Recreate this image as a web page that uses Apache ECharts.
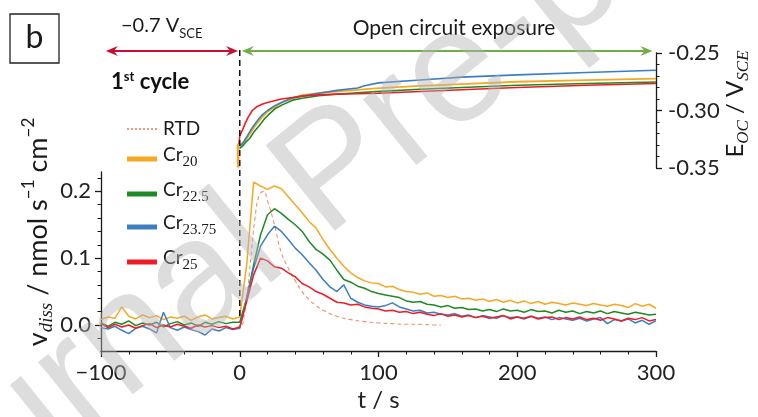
<!DOCTYPE html>
<html>
<head>
<meta charset="utf-8">
<script src="https://cdn.jsdelivr.net/npm/echarts@6/dist/echarts.min.js"></script>
<style>
  html, body { margin: 0; padding: 0; background: #fff; }
  #chart { width: 758px; height: 417px; }
</style>
</head>
<body>
<div id="chart"></div>
<script>
// ---- time base for dissolution rates (s) ----
const timeSec = [
  -100, -95, -90, -85, -80, -75, -70, -65, -60, -55,
  -50, -45, -40, -35, -30, -25, -20, -15, -10, -5,
  0, 5, 10, 15, 20, 25, 30, 35, 40, 45,
  50, 55, 60, 65, 70, 75, 80, 85, 90, 95,
  100, 105, 110, 115, 120, 125, 130, 135, 140, 145,
  150, 155, 160, 165, 170, 175, 180, 185, 190, 195,
  200, 205, 210, 215, 220, 225, 230, 235, 240, 245,
  250, 255, 260, 265, 270, 275, 280, 285, 290, 295,
  300
];

// ---- dissolution rate v_diss (nmol s^-1 cm^-2) ----
const cr20Rate = [
  0.008, 0.012, 0.010, 0.027, 0.013, 0.009, 0.015, 0.011, 0.014, 0.008,
  0.012, 0.010, 0.013, 0.007, 0.012, 0.015, 0.009, 0.011, 0.013, 0.009,
  0.012, 0.090, 0.214, 0.208, 0.203, 0.208, 0.204, 0.192, 0.180, 0.168,
  0.155, 0.145, 0.128, 0.113, 0.100, 0.088, 0.078, 0.071, 0.066, 0.063,
  0.062, 0.057, 0.058, 0.053, 0.050, 0.049, 0.046, 0.048, 0.043, 0.044,
  0.041, 0.043, 0.039, 0.040, 0.037, 0.039, 0.035, 0.038, 0.034, 0.037,
  0.033, 0.036, 0.032, 0.035, 0.031, 0.034, 0.032, 0.030, 0.033, 0.031,
  0.029, 0.032, 0.030, 0.028, 0.031, 0.029, 0.026, 0.032, 0.028, 0.031,
  0.025
];
const cr225Rate = [
  0.003, -0.002, 0.004, 0.001, 0.006, -0.001, 0.003, 0.000, 0.004, -0.003,
  0.002, 0.005, 0.000, 0.003, -0.002, 0.004, 0.001, 0.005, 0.002, 0.004,
  0.004, 0.040, 0.090, 0.135, 0.165, 0.174, 0.167, 0.158, 0.150, 0.140,
  0.125, 0.113, 0.106, 0.097, 0.082, 0.068, 0.064, 0.058, 0.055, 0.050,
  0.047, 0.045, 0.043, 0.041, 0.036, 0.034, 0.035, 0.031, 0.030, 0.027,
  0.029, 0.025, 0.026, 0.023, 0.024, 0.021, 0.023, 0.020, 0.024, 0.021,
  0.022, 0.019, 0.023, 0.020, 0.021, 0.018, 0.022, 0.019, 0.021, 0.017,
  0.020, 0.018, 0.021, 0.017, 0.020, 0.018, 0.016, 0.019, 0.017, 0.015,
  0.016
];
const cr2375Rate = [
  -0.004, -0.006, -0.002, -0.008, -0.013, -0.005, -0.002, -0.006, -0.012, 0.019,
  -0.004, -0.008, -0.003, -0.007, -0.010, -0.015, -0.006, -0.009, -0.004, -0.007,
  -0.005, 0.040, 0.085, 0.118, 0.135, 0.148, 0.140, 0.128, 0.115, 0.105,
  0.093, 0.082, 0.068, 0.057, 0.050, 0.060, 0.040, 0.034, 0.030, 0.028,
  0.027, 0.029, 0.033, 0.027, 0.024, 0.021, 0.022, 0.018, 0.019, 0.016,
  0.015, 0.017, 0.013, 0.015, 0.011, 0.014, 0.012, 0.010, 0.014, 0.011,
  0.012, 0.009, 0.013, 0.010, 0.012, 0.008, 0.011, 0.009, 0.007, 0.010,
  0.006, 0.009, 0.011, 0.002, 0.008, 0.006, 0.009, 0.003, 0.007, 0.001,
  0.006
];
const cr25Rate = [
  0.002, -0.004, 0.001, -0.003, 0.000, -0.005, -0.001, 0.002, -0.004, 0.000,
  -0.003, 0.001, -0.002, -0.005, 0.000, -0.003, -0.001, -0.004, -0.002, -0.006,
  -0.003, 0.035, 0.075, 0.100, 0.096, 0.087, 0.085, 0.078, 0.072, 0.062,
  0.057, 0.050, 0.046, 0.040, 0.034, 0.033, 0.030, 0.031, 0.027, 0.025,
  0.024, 0.021, 0.022, 0.019, 0.020, 0.017, 0.019, 0.016, 0.014, 0.017,
  0.013, 0.015, 0.012, 0.014, 0.011, 0.013, 0.010, 0.012, 0.014, 0.009,
  0.012, 0.010, 0.013, 0.009, 0.011, 0.012, 0.008, 0.011, 0.009, 0.012,
  0.008, 0.010, 0.007, 0.011, 0.009, 0.006, 0.010, 0.008, 0.011, 0.006,
  0.008
];

// ---- residence time distribution (RTD) ----
const rtdTime = [2, 5, 8, 11, 14, 17, 20, 25, 30, 35, 40, 45, 50, 55, 60, 70, 80, 90, 100, 110, 120, 130, 140, 145];
const rtdRate = [0.000, 0.040, 0.100, 0.160, 0.194, 0.200, 0.186, 0.150, 0.108, 0.085, 0.066, 0.050, 0.038, 0.029, 0.022, 0.013, 0.008, 0.005, 0.003, 0.002, 0.001, 0.001, 0.000, 0.000];

// ---- open circuit potential E_OC (V_SCE) ----
const cr20EocT = [-1.5, -1.5, -0.8, -0.8, 0, 2, 5, 8, 12, 16, 20, 26, 32, 38, 45, 57, 69, 85, 98, 130, 160, 200, 250, 300];
const cr20EocV = [-0.3495, -0.329, -0.3495, -0.328, -0.330, -0.328, -0.3246, -0.319, -0.312, -0.306, -0.301, -0.2963, -0.292, -0.2895, -0.2866, -0.2848, -0.2836, -0.2820, -0.2808, -0.2785, -0.2770, -0.2750, -0.2735, -0.2723];
const cr225EocT = [0, 2, 4, 7, 10, 14, 18, 21, 26, 31, 38, 45, 57, 69, 85, 98, 130, 160, 200, 250, 300];
const cr225EocV = [-0.333, -0.331, -0.328, -0.3246, -0.319, -0.3133, -0.307, -0.3034, -0.298, -0.2949, -0.291, -0.2893, -0.2872, -0.2859, -0.2845, -0.2836, -0.2815, -0.2800, -0.2780, -0.2765, -0.2752];
const cr2375EocT = [0, 2, 4, 6, 9, 12, 16, 20, 25, 30, 38, 45, 57, 70, 85, 90, 100, 130, 160, 200, 250, 300];
const cr2375EocV = [-0.331, -0.329, -0.325, -0.321, -0.315, -0.310, -0.304, -0.300, -0.296, -0.293, -0.289, -0.2875, -0.2850, -0.2825, -0.2805, -0.2785, -0.2760, -0.2735, -0.2710, -0.2690, -0.2670, -0.2650];
const cr25EocT = [-0.5, 0, 2, 4, 6, 9, 12, 16, 20, 25, 30, 38, 45, 57, 70, 85, 100, 130, 160, 200, 250, 300];
const cr25EocV = [-0.329, -0.322, -0.317, -0.311, -0.306, -0.300, -0.297, -0.2945, -0.2930, -0.2915, -0.2900, -0.2887, -0.2875, -0.2864, -0.2858, -0.2855, -0.2850, -0.2835, -0.2820, -0.2800, -0.2780, -0.2765];

// ---- tick labels ----
const rateTicks = [0, 0.1, 0.2];
const rateMinorTicks = [-0.02, 0.02, 0.04, 0.06, 0.08, 0.12, 0.14, 0.16, 0.18, 0.22];
const eocTicks = [-0.35, -0.30, -0.25];
const eocMinorTicks = [-0.34, -0.33, -0.32, -0.31, -0.29, -0.28, -0.27, -0.26];

const seriesSubs = ['20', '22.5', '23.75', '25'];

const COLORS = ['#f7a823', '#1f8a24', '#3b7fc1', '#ee1d25'];
const RTD_COLOR = '#e8774a';
const AX = '#1a1a1a';
const FONT = 'Lato, "Open Sans", sans-serif';
const SERIF = '"Liberation Serif", "DejaVu Serif", serif';

const pairs = (xs, ys) => xs.map((x, i) => [x, ys[i]]);
const minus = (s) => String(s).replace('-', '\u2212');

const chart = echarts.init(document.getElementById('chart'), null, { renderer: 'canvas' });

const rateSets = [cr20Rate, cr225Rate, cr2375Rate, cr25Rate];
const eocSets = [[cr20EocT, cr20EocV], [cr225EocT, cr225EocV], [cr2375EocT, cr2375EocV], [cr25EocT, cr25EocV]];

const series = [];
eocSets.forEach((s, i) => {
  series.push({
    name: 'Cr' + seriesSubs[i] + ' E_OC', type: 'line', xAxisIndex: 0, yAxisIndex: 0,
    data: pairs(s[0], s[1]), showSymbol: false, smooth: false,
    lineStyle: { color: COLORS[i], width: i === 0 ? 1.8 : 1.6 }, z: 3 + i
  });
});
rateSets.forEach((arr, i) => {
  series.push({
    name: 'Cr' + seriesSubs[i], type: 'line', xAxisIndex: 1, yAxisIndex: 1,
    data: pairs(timeSec, arr), showSymbol: false,
    lineStyle: { color: COLORS[i], width: 1.5 }, z: 3 + i
  });
});
series.push({
  name: 'RTD', type: 'line', xAxisIndex: 1, yAxisIndex: 1,
  data: pairs(rtdTime, rtdRate), showSymbol: false, smooth: true,
  lineStyle: { color: RTD_COLOR, width: 1.1, type: [4, 3], opacity: 0.8 }, z: 2
});

const noSplit = { show: false };
const tickFont = { fontFamily: FONT, fontSize: 22, color: '#222' };
chart.setOption({
  animation: false,
  backgroundColor: '#fff',
  grid: [
    { left: 101, right: 102, top: 53, height: 115 },
    { left: 101, right: 102, top: 172, height: 179 }
  ],
  xAxis: [
    { gridIndex: 0, type: 'value', min: -100, max: 300, show: false },
    {
      gridIndex: 1, type: 'value', min: -100, max: 300, interval: 100,
      axisLine: { onZero: false, lineStyle: { color: AX, width: 1.3 } },
      axisTick: { length: 6, lineStyle: { color: AX, width: 1.3 } },
      minorTick: { show: true, splitNumber: 5, length: 3.5, lineStyle: { color: AX, width: 1 } },
      splitLine: noSplit,
      axisLabel: Object.assign({ margin: 11, formatter: (v) => minus(v) }, tickFont),
      name: 't / s', nameLocation: 'middle', nameGap: 37,
      nameTextStyle: { fontFamily: FONT, fontSize: 24, color: '#222' }
    }
  ],
  yAxis: [
    {
      gridIndex: 0, type: 'value', position: 'right', min: -0.35, max: -0.25,
      axisLine: { show: true, onZero: false, lineStyle: { color: AX, width: 1.3 } },
      axisTick: { show: true, customValues: eocTicks, length: 6, lineStyle: { color: AX, width: 1.3 } },
      axisLabel: Object.assign({ customValues: eocTicks, margin: 12, padding: [6, 0, 0, 0], formatter: (v) => v.toFixed(2) }, tickFont),
      splitLine: noSplit
    },
    {
      gridIndex: 1, type: 'value', position: 'left', min: -0.039, max: 0.229,
      axisLine: { show: true, onZero: false, lineStyle: { color: AX, width: 1.3 } },
      axisTick: { show: true, customValues: rateTicks, length: 6, lineStyle: { color: AX, width: 1.3 } },
      axisLabel: Object.assign({ customValues: rateTicks, margin: 10, padding: [5, 0, 0, 0], formatter: (v) => v.toFixed(1) }, tickFont),
      splitLine: noSplit
    },
    {
      gridIndex: 1, type: 'value', position: 'left', min: -0.039, max: 0.229,
      axisLine: { show: false, onZero: false },
      axisTick: { show: true, customValues: rateMinorTicks, length: 3.5, lineStyle: { color: AX, width: 1 } },
      axisLabel: { show: false }, splitLine: noSplit
    },
    {
      gridIndex: 0, type: 'value', position: 'right', min: -0.35, max: -0.25,
      axisLine: { show: false, onZero: false },
      axisTick: { show: true, customValues: eocMinorTicks, length: 3.5, lineStyle: { color: AX, width: 1 } },
      axisLabel: { show: false }, splitLine: noSplit
    }
  ],
  series: series
});

// ---- annotations placed from axis coordinates ----
const xPix = (t) => chart.convertToPixel({ xAxisIndex: 1 }, t);
const yRate = (v) => chart.convertToPixel({ yAxisIndex: 1 }, v);
const arrowY = 51;

function doubleArrow(t1, t2, color) {
  const x1 = xPix(t1), x2 = xPix(t2);
  return [
    { type: 'line', shape: { x1: x1 + 4, y1: arrowY, x2: x2 - 4, y2: arrowY }, style: { stroke: color, lineWidth: 2 }, z: 10 },
    { type: 'polygon', shape: { points: [[x1, arrowY], [x1 + 12, arrowY - 5], [x1 + 8, arrowY], [x1 + 12, arrowY + 5]] }, style: { fill: color }, z: 10 },
    { type: 'polygon', shape: { points: [[x2, arrowY], [x2 - 12, arrowY - 5], [x2 - 8, arrowY], [x2 - 12, arrowY + 5]] }, style: { fill: color }, z: 10 }
  ];
}

const graphics = [];

// dashed marker at t = 0
graphics.push({
  type: 'line', shape: { x1: xPix(0), y1: 50, x2: xPix(0), y2: yRate(0.008) },
  style: { stroke: '#111', lineWidth: 1.5, lineDash: [6, 4] }, z: 9
});
graphics.push(...doubleArrow(-96.5, -1.2, '#c8102e'));
graphics.push(...doubleArrow(1.5, 297.5, '#72ae48'));

// panel letter
graphics.push({ type: 'rect', shape: { x: 10, y: 14, width: 49, height: 49 }, style: { fill: 'none', stroke: '#222', lineWidth: 1.3 }, z: 10 });
graphics.push({ type: 'text', x: 34.5, y: 38, style: { text: 'b', fontFamily: FONT, fontSize: 32, fill: '#1a1a1a', align: 'center', verticalAlign: 'middle' }, z: 10 });

// stage captions
graphics.push({
  type: 'text', x: 121, y: 30, z: 10,
  style: {
    text: '{m|\u22120.7 V}{s|SCE}', align: 'left', verticalAlign: 'middle',
    rich: {
      m: { fontFamily: FONT, fontSize: 20, lineHeight: 20, padding: [0, 0, 4, 0], verticalAlign: 'bottom', fill: '#1a1a1a' },
      s: { fontFamily: FONT, fontSize: 13, lineHeight: 13, verticalAlign: 'bottom', fill: '#1a1a1a' }
    }
  }
});
graphics.push({ type: 'text', x: 454, y: 28, z: 10, style: { text: 'Open circuit exposure', fontFamily: FONT, fontSize: 21, fill: '#1a1a1a', align: 'center', verticalAlign: 'middle' } });
graphics.push({
  type: 'text', x: 111, y: 82, z: 10,
  style: {
    text: '{m|1}{p|st}{m| cycle}', align: 'left', verticalAlign: 'middle',
    rich: {
      m: { fontFamily: FONT, fontWeight: 'bold', fontSize: 22, lineHeight: 22, verticalAlign: 'bottom', fill: '#111' },
      p: { fontFamily: FONT, fontWeight: 'bold', fontSize: 13, lineHeight: 13, padding: [0, 0, 10, 0], verticalAlign: 'bottom', fill: '#111' }
    }
  }
});

// legend
const legendX = 127, legendTextX = 163;
const legendRowsY = [129, 159, 194, 227, 262];
graphics.push({ type: 'line', shape: { x1: legendX, y1: legendRowsY[0], x2: legendX + 30, y2: legendRowsY[0] }, style: { stroke: RTD_COLOR, lineWidth: 1.6, lineDash: [2, 2] }, z: 10 });
graphics.push({ type: 'text', x: legendTextX, y: legendRowsY[0], z: 10, style: { text: 'RTD', fontFamily: FONT, fontSize: 19, fill: '#1a1a1a', align: 'left', verticalAlign: 'middle' } });
seriesSubs.forEach((sub, i) => {
  const y = legendRowsY[i + 1];
  graphics.push({ type: 'line', shape: { x1: legendX, y1: y, x2: legendX + 30, y2: y }, style: { stroke: COLORS[i], lineWidth: 5 }, z: 10 });
  graphics.push({
    type: 'text', x: legendTextX, y: y + 1, z: 10,
    style: {
      text: '{m|Cr}{s|' + sub + '}', align: 'left', verticalAlign: 'middle',
      rich: {
        m: { fontFamily: FONT, fontSize: 19, lineHeight: 19, padding: [0, 0, 5, 0], verticalAlign: 'bottom', fill: '#1a1a1a' },
        s: { fontFamily: SERIF, fontSize: 15, lineHeight: 15, verticalAlign: 'bottom', fill: '#1a1a1a' }
      }
    }
  });
});

// axis titles
graphics.push({
  type: 'text', x: 44, y: 232, rotation: Math.PI / 2, z: 10,
  style: {
    text: '{m|v}{i|diss}{m| / nmol s}{p|\u22121}{m| cm}{p|\u22122}', align: 'center', verticalAlign: 'middle',
    rich: {
      m: { fontFamily: FONT, fontSize: 27, lineHeight: 27, padding: [0, 0, 6, 0], verticalAlign: 'bottom', fill: '#1a1a1a' },
      i: { fontFamily: SERIF, fontStyle: 'italic', fontSize: 19, lineHeight: 19, padding: [0, 0, 1, 0], verticalAlign: 'bottom', fill: '#1a1a1a' },
      p: { fontFamily: FONT, fontSize: 17, lineHeight: 17, padding: [0, 0, 20, 0], verticalAlign: 'bottom', fill: '#1a1a1a' }
    }
  }
});
graphics.push({
  type: 'text', x: 741, y: 104, rotation: Math.PI / 2, z: 10,
  style: {
    text: '{m|E}{i|OC}{m| / V}{i|SCE}', align: 'center', verticalAlign: 'middle',
    rich: {
      m: { fontFamily: FONT, fontSize: 24, lineHeight: 24, padding: [0, 0, 6, 0], verticalAlign: 'bottom', fill: '#1a1a1a' },
      i: { fontFamily: SERIF, fontStyle: 'italic', fontSize: 17, lineHeight: 17, padding: [0, 0, 1, 0], verticalAlign: 'bottom', fill: '#1a1a1a' }
    }
  }
});

// journal watermark
graphics.push({
  type: 'text', x: 335, y: 174, rotation: 0.68, z: 50, silent: true,
  style: { text: 'Journal Pre-proof', fontFamily: '"Liberation Sans", Arial, sans-serif', fontSize: 160, fill: 'rgba(180,180,180,0.45)', align: 'center', verticalAlign: 'middle' }
});

chart.setOption({ graphic: graphics });
</script>
</body>
</html>
